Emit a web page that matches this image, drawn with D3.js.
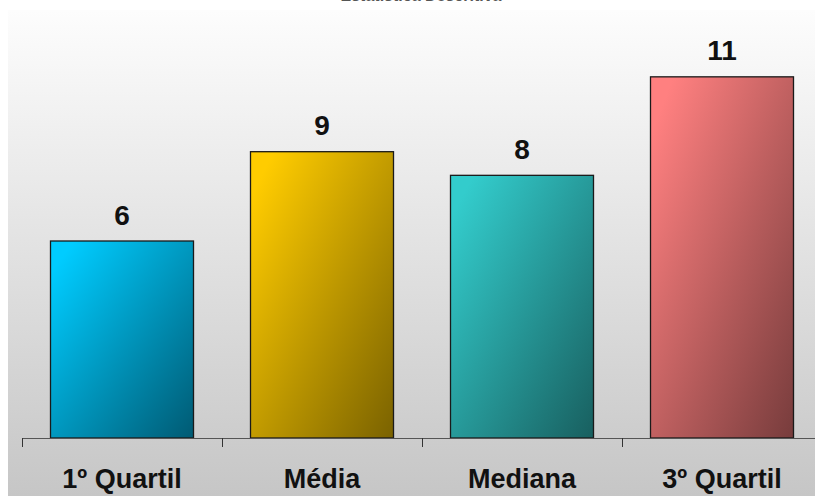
<!DOCTYPE html>
<html><head><meta charset="utf-8">
<script src="https://cdn.jsdelivr.net/npm/d3@7"></script>
<style>body{margin:0;background:#fff;}svg{display:block;}</style>
</head><body>
<svg id="c" width="815" height="496"></svg>
<script>
const title = "Estatística Descritiva";
const categories = ["1º Quartil", "Média", "Mediana", "3º Quartil"];
const values = [6, 8.72, 8, 11];
const valueLabels = ["6", "9", "8", "11"];
const colorsLight = ["#00ccff", "#ffcc00", "#33cccc", "#ff8080"];
const colorsDark = ["#005a73", "#7a6200", "#185f5f", "#773c3c"];
const yDomain = [0, 12];

const svg = d3.select("#c");
const W = 815, H = 496;
const defs = svg.append("defs");
const bg = defs.append("linearGradient").attr("id","bg").attr("x1",0).attr("y1",0).attr("x2",0).attr("y2",1);
bg.append("stop").attr("offset","0%").attr("stop-color","#fdfdfd");
bg.append("stop").attr("offset","100%").attr("stop-color","#c6c6c6");
categories.forEach((c,i)=>{
  const g = defs.append("linearGradient").attr("id","g"+i).attr("x1",0).attr("y1",0).attr("x2",1).attr("y2",1);
  g.append("stop").attr("offset","0%").attr("stop-color",colorsLight[i]);
  g.append("stop").attr("offset","8%").attr("stop-color",colorsLight[i]);
  g.append("stop").attr("offset","100%").attr("stop-color",colorsDark[i]);
});
svg.append("rect").attr("x",8).attr("y",10).attr("width",W-8).attr("height",H-10).attr("fill","url(#bg)");

svg.append("text").attr("x",421).attr("y",1).attr("text-anchor","middle")
  .attr("font-family","Liberation Sans, Arial, sans-serif").attr("font-weight","bold").attr("font-size",16)
  .attr("fill","#555").text(title);

const x = d3.scaleBand().domain(categories).range([22, 822]).paddingInner(0.285).paddingOuter(0.1425);
const xTicks = d3.scaleBand().domain(categories).range([22, 822]);
const y = d3.scaleLinear().domain(yDomain).range([438, 44]);

svg.append("g").selectAll("rect").data(categories).join("rect")
  .attr("x", d=>x(d)).attr("width", x.bandwidth())
  .attr("y", (d,i)=>y(values[i])).attr("height",(d,i)=>y(0)-y(values[i]))
  .attr("fill",(d,i)=>"url(#g"+i+")").attr("stroke","#1a1a1a").attr("stroke-width",1.3);

const axis = svg.append("g");
axis.append("line").attr("x1",22).attr("x2",W).attr("y1",438.5).attr("y2",438.5).attr("stroke","#555").attr("stroke-width",1);
axis.selectAll("line.t").data(categories).join("line").attr("class","t")
  .attr("x1",d=>xTicks(d)+0.5).attr("x2",d=>xTicks(d)+0.5).attr("y1",438).attr("y2",447)
  .attr("stroke","#333").attr("stroke-width",1);

svg.append("g").selectAll("text").data(categories).join("text")
  .attr("x", d=>x(d)+x.bandwidth()/2).attr("y",488).attr("text-anchor","middle")
  .attr("font-family","Liberation Sans, Arial, sans-serif").attr("font-weight","bold").attr("font-size",27)
  .attr("fill","#111").text(d=>d);

svg.append("g").selectAll("text").data(categories).join("text")
  .attr("x", d=>x(d)+x.bandwidth()/2).attr("y",(d,i)=>y(values[i])-16.5).attr("text-anchor","middle")
  .attr("font-family","Liberation Sans, Arial, sans-serif").attr("font-weight","bold").attr("font-size",28)
  .attr("fill","#111").text((d,i)=>valueLabels[i]);
</script>
</body></html>
